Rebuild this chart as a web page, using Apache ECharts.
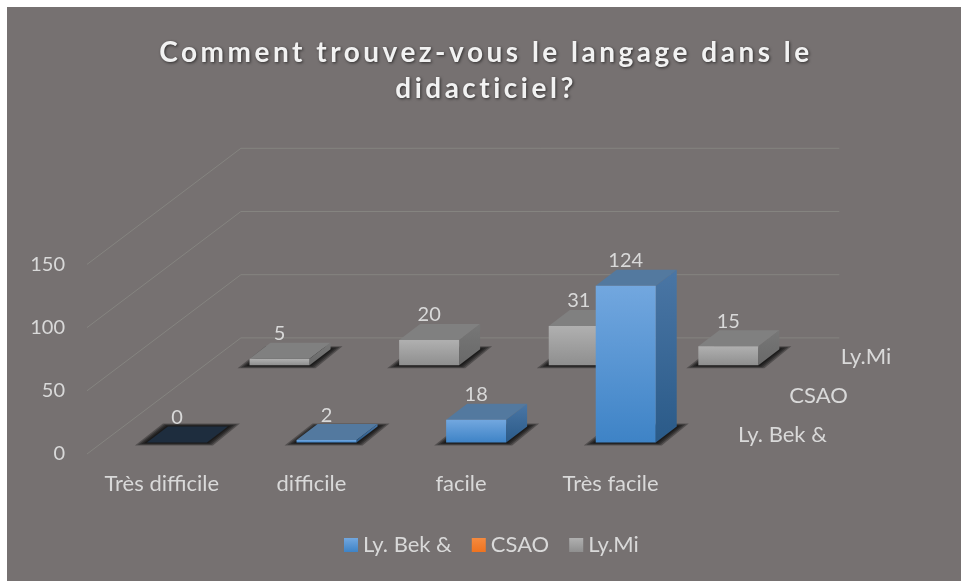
<!DOCTYPE html>
<html>
<head>
<meta charset="utf-8">
<title>Comment trouvez-vous le langage dans le didacticiel?</title>
<script src="https://cdn.jsdelivr.net/npm/echarts@6/dist/echarts.min.js"></script>
<style>
  html, body { margin: 0; height: 100%; overflow: hidden; background: #fff; }
  #chart { position: absolute; left: 7px; top: 7px; width: 954px; height: 574px; }
</style>
</head>
<body>
<div id="chart"></div>
<script>
var categories = ['Très difficile', 'difficile', 'facile', 'Très facile'];
var seriesNames = ['Ly. Bek &', 'CSAO', 'Ly.Mi'];
var bek = [0, 2, 18, 124];
var csao = [null, null, null, null];
var mi = [5, 20, 31, 15];
var yTicks = [0, 50, 100, 150];

var FONT = 'Lato, "Open Sans", sans-serif';
var TEXT = '#d9d9d9';
// depth of one row on the floor, in px (fake 3d)
var ROW_DX = 51.3, ROW_DY = -38.7;
var BAR_W = 60, BAR_DX = 21, BAR_DY = -16;

function vgrad(a, b) {
  return new echarts.graphic.LinearGradient(0, 0, 0, 1, [
    { offset: 0, color: a }, { offset: 1, color: b }
  ]);
}

var blue = { front: ['#72a7df', '#3e83c6'], side: ['#4a76a5', '#2a5a88'], top: '#53799f', flat: '#1e2d3e' };
var grey = { front: ['#b0b0b0', '#8f8f8f'], side: ['#777777', '#696969'], top: '#808080', flat: '#808080' };

function poly(pts, fill) {
  return { type: 'polygon', shape: { points: pts }, style: { fill: fill } };
}

// one 3d column: row is the depth index, 0 = front
function barRenderer(row, col) {
  return function (params, api) {
    var val = api.value(1);
    if (val == null || isNaN(val)) return;
    var p0 = api.coord([api.value(0), 0]);
    var p1 = api.coord([api.value(0), val]);
    var ox = ROW_DX * (row + 0.295), oy = ROW_DY * (row + 0.295);
    var x0 = p0[0] + ox - BAR_W / 2, x1 = x0 + BAR_W;
    var yb = p0[1] + oy, yt = p1[1] + oy;
    var kids = [];
    // soft floor shadow, stacked layers because it has to fade out
    [1, 0.75, 0.5, 0.25].forEach(function (t) {
      kids.push(poly([
        [x0 - 12 * t, yb + 3 * t], [x1 + 6 * t, yb + 3 * t],
        [x1 + BAR_DX + 12 * t, yb + BAR_DY - 3 * t], [x0 + BAR_DX - 5 * t, yb + BAR_DY - 3 * t]
      ], 'rgba(0,0,0,0.3)'));
    });
    kids.push(poly([
      [x0, yt], [x1, yt], [x1 + BAR_DX, yt + BAR_DY], [x0 + BAR_DX, yt + BAR_DY]
    ], val === 0 ? col.flat : col.top));
    if (val > 0) {
      kids.push(poly([[x1, yb], [x1, yt], [x1 + BAR_DX, yt + BAR_DY], [x1 + BAR_DX, yb + BAR_DY]], vgrad(col.side[0], col.side[1])));
      kids.push({ type: 'rect', shape: { x: x0, y: yt, width: BAR_W, height: yb - yt }, style: { fill: vgrad(col.front[0], col.front[1]) } });
    }
    kids.push({
      type: 'text', z2: 50,
      style: {
        text: String(val), x: (x0 + x1) / 2, y: yt + BAR_DY - 9, align: 'center', verticalAlign: 'middle',
        fill: TEXT, font: '20px ' + FONT
      }
    });
    return { type: 'group', children: kids };
  };
}

// floor and back wall lines for each y tick
function wallRenderer(params, api) {
  var bw = api.size([1, 0])[0];
  var left = api.coord([0, 0])[0] - bw / 2;
  var right = api.coord([categories.length - 1, 0])[0] + bw / 2;
  var y = api.coord([0, api.value(1)])[1];
  return {
    type: 'polyline',
    shape: { points: [[left, y], [left + 3 * ROW_DX, y + 3 * ROW_DY], [right + 3 * ROW_DX, y + 3 * ROW_DY]] },
    style: { fill: null, stroke: '#858480', lineWidth: 1 }
  };
}

// series names on the depth axis, right of the floor
function depthLabel(params, api) {
  var row = api.value(0);
  var bw = api.size([1, 0])[0];
  var p = api.coord([categories.length - 1, 0]);
  return {
    type: 'text',
    style: {
      text: seriesNames[row], x: p[0] + bw / 2 + ROW_DX * (row + 0.5) + 27, y: p[1] + ROW_DY * (row + 0.5),
      align: 'left', verticalAlign: 'middle', fill: TEXT, font: '22px ' + FONT
    }
  };
}

function rows(values) {
  return values.map(function (v, i) { return [i, v]; });
}

var chart = echarts.init(document.getElementById('chart'));
// title has its own canvas layer so it can take letter spacing
chart.getZr().painter.getLayer(1).ctx.letterSpacing = '3.5px';

var option = {
  backgroundColor: '#767171',
  animation: false,
  title: {
    text: 'Comment trouvez-vous le langage dans le\ndidacticiel?',
    left: 474, top: 23, textAlign: 'center', zlevel: 1,
    textStyle: {
      color: '#f2f2f2', fontFamily: FONT, fontWeight: 'bold', fontSize: 28, lineHeight: 36,
      textShadowColor: 'rgba(0,0,0,0.6)', textShadowBlur: 3, textShadowOffsetX: 1, textShadowOffsetY: 1
    }
  },
  legend: {
    data: seriesNames, left: 332, top: 522, icon: 'rect', itemWidth: 14, itemHeight: 14, itemGap: 20,
    textStyle: { color: TEXT, fontFamily: FONT, fontSize: 22 }
  },
  grid: { left: 80, top: 257.4, width: 598.4, height: 189.6 },
  xAxis: {
    type: 'category', data: categories,
    axisLine: { show: false }, axisTick: { show: false },
    axisLabel: { color: TEXT, fontFamily: FONT, fontSize: 22, margin: 19 }
  },
  yAxis: {
    type: 'value', min: 0, max: 150, interval: 50,
    axisLine: { show: false }, axisTick: { show: false }, splitLine: { show: false },
    axisLabel: { color: TEXT, fontFamily: FONT, fontSize: 20, margin: 22 }
  },
  series: [
    { type: 'custom', name: 'walls', z: 1, renderItem: wallRenderer, encode: { x: 0, y: 1 }, data: yTicks.map(function (t) { return [0, t]; }) },
    { type: 'custom', name: 'Ly.Mi', z: 2, itemStyle: { color: vgrad(grey.front[0], grey.front[1]) }, renderItem: barRenderer(2, grey), encode: { x: 0, y: 1 }, data: rows(mi) },
    { type: 'custom', name: 'CSAO', z: 3, itemStyle: { color: vgrad('#f58a3e', '#ee7320') }, renderItem: barRenderer(1, grey), encode: { x: 0, y: 1 }, data: rows(csao) },
    { type: 'custom', name: 'Ly. Bek &', z: 4, itemStyle: { color: vgrad(blue.front[0], blue.front[1]) }, renderItem: barRenderer(0, blue), encode: { x: 0, y: 1 }, data: rows(bek) },
    { type: 'custom', name: 'depth', z: 5, renderItem: depthLabel, data: seriesNames.map(function (n, i) { return [i]; }), encode: { x: -1, y: -1 }, coordinateSystem: 'cartesian2d' }
  ]
};
chart.setOption(option);
</script>
</body>
</html>
